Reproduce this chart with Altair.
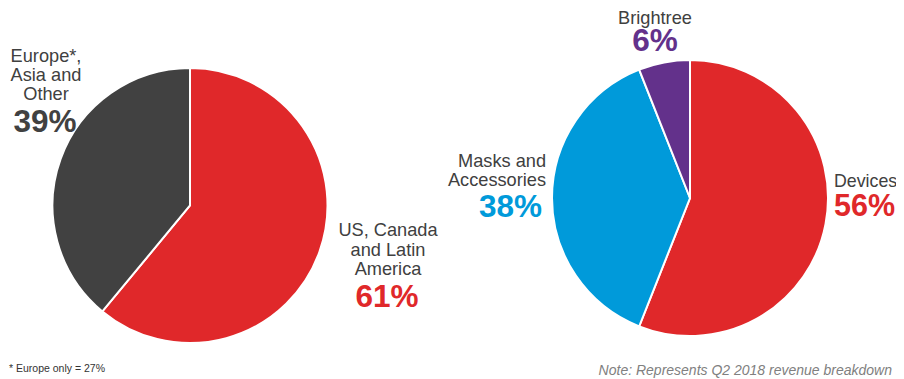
import altair as alt
import pandas as pd

# ---- data ----
left_categories = ["US, Canada and Latin America", "Europe*, Asia and Other"]
left_labels = ["US, Canada\nand Latin\nAmerica", "Europe*,\nAsia and\nOther"]
left_values = [61, 39]
left_colors = ["#E0282A", "#414141"]
left_pct_colors = ["#E0282A", "#414141"]

right_categories = ["Devices", "Masks and Accessories", "Brightree"]
right_labels = ["Devices", "Masks and\nAccessories", "Brightree"]
right_values = [56, 38, 6]
right_colors = ["#E0282A", "#009ADA", "#63318B"]
right_pct_colors = ["#E0282A", "#009ADA", "#63318B"]

footnote = "* Europe only = 27%"
note = "Note: Represents Q2 2018 revenue breakdown"

FONT = "Liberation Sans"
TXT = "#404040"
M = 8  # page margin
LBL = 18.2
PCT = 31.5


def pie(categories, values, colors, cx, cy, r):
    df = pd.DataFrame({"category": categories, "value": values,
                       "order": list(range(len(values)))})
    return alt.Chart(df).mark_arc(outerRadius=r, stroke="white", strokeWidth=2).encode(
        theta=alt.Theta("value:Q", stack=True),
        order=alt.Order("order:Q"),
        color=alt.Color("category:N", scale=alt.Scale(domain=categories, range=colors), legend=None),
        x=alt.value(cx - M),
        y=alt.value(cy - M),
    )


one = pd.DataFrame({"a": [0]})


def label(text, x, y, align, size, bold=False, color=TXT, italic=False, lh=19.5):
    kw = dict(font=FONT, fontSize=size, align=align, baseline="alphabetic",
              color=color, lineBreak="\n", lineHeight=lh)
    if bold:
        kw["fontWeight"] = "bold"
    if italic:
        kw["fontStyle"] = "italic"
    return alt.Chart(one).mark_text(**kw).encode(
        x=alt.value(x - M), y=alt.value(y - M), text=alt.value(text))


layers = [
    pie(left_categories, left_values, left_colors, 190, 205.5, 137.5),
    pie(right_categories, right_values, right_colors, 690, 198, 138),
    # left pie labels
    label(left_labels[1], 46, 62, "center", LBL, lh=19.2),
    label(f"{left_values[1]}%", 45, 131.7, "center", PCT, bold=True, color=left_pct_colors[1]),
    label(left_labels[0], 388, 236, "center", LBL, lh=19.5),
    label(f"{left_values[0]}%", 387, 306.7, "center", PCT, bold=True, color=left_pct_colors[0]),
    # right pie labels
    label(right_labels[1], 546, 166.7, "right", LBL, lh=19),
    label(f"{right_values[1]}%", 542, 216.5, "right", PCT, bold=True, color=right_pct_colors[1]),
    label(right_labels[2], 655, 24, "center", LBL),
    label(f"{right_values[2]}%", 655, 50.5, "center", PCT, bold=True, color=right_pct_colors[2]),
    label(right_labels[0], 834, 187, "left", 17.8),
    label(f"{right_values[0]}%", 834, 216, "left", 30.5, bold=True, color=right_pct_colors[0]),
    # footnotes
    label(footnote, 9, 372, "left", 10.5, color="#333333"),
    label(note, 892, 375, "right", 14, color="#808080", italic=True),
]

chart = alt.layer(*layers).resolve_scale(
    color="independent", theta="independent"
).properties(
    width=888, height=371, padding=0, autosize=alt.AutoSizeParams(type="none")
).configure_view(stroke=None)

chart.save("out.html", embed_options={"renderer": "svg", "actions": False})
